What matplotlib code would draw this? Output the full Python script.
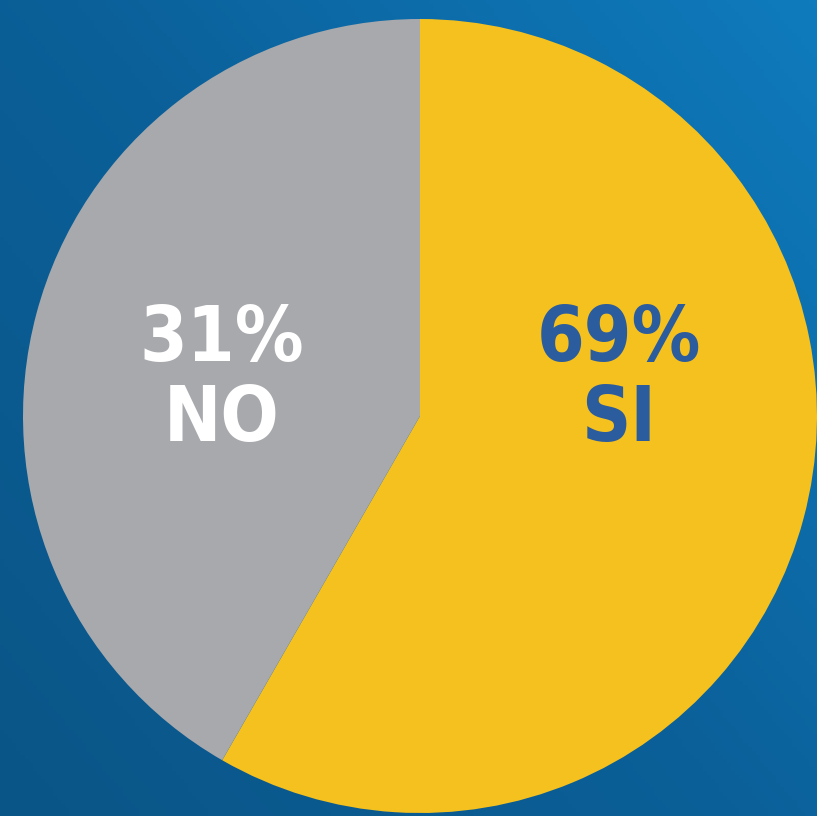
import numpy as np
import matplotlib.pyplot as plt
from matplotlib.colors import LinearSegmentedColormap

# slice sizes as drawn in the picture (clockwise from top), and the printed labels
categories = ['SI', 'NO']
slice_sizes = [58.3, 41.7]
printed_pct = ['69%', '31%']
colors = ['#F5C11F', '#A8A9AD']
text_colors = ['#2B5C9E', '#FFFFFF']

W, H = 817, 816
fig = plt.figure(figsize=(W / 100, H / 100), dpi=100)
ax = fig.add_axes([0, 0, 1, 1])

# blue background, darker bottom-left, lighter top-right
yy, xx = np.mgrid[0:1:200j, 0:1:200j]
grad = 0.55 * xx + 0.45 * yy
bg = LinearSegmentedColormap.from_list('bg', ['#0A5587', '#0B6099', '#0F7BBD'])
ax.imshow(grad, cmap=bg, extent=[0, W, 0, H], origin='lower', aspect='auto', zorder=0)

cx, cy, r = 420, H - 416, 397
wedges, _ = ax.pie(slice_sizes, colors=colors, startangle=90, counterclock=False,
                   center=(cx, cy), radius=r, frame=True,
                   wedgeprops=dict(linewidth=0))
for w in wedges:
    w.set_zorder(2)
ax.set_xlim(0, W)
ax.set_ylim(0, H)
ax.axis('off')

label_x = [619, 222]
for i, name in enumerate(categories):
    ax.text(label_x[i], cy + 36, f'{printed_pct[i]}\n{name}', color=text_colors[i],
            ha='center', va='center', fontsize=55, fontweight='bold',
            family=['DejaVu Sans'], fontstretch='condensed', linespacing=1.12, zorder=3)

fig.savefig('out.png', dpi=100)
